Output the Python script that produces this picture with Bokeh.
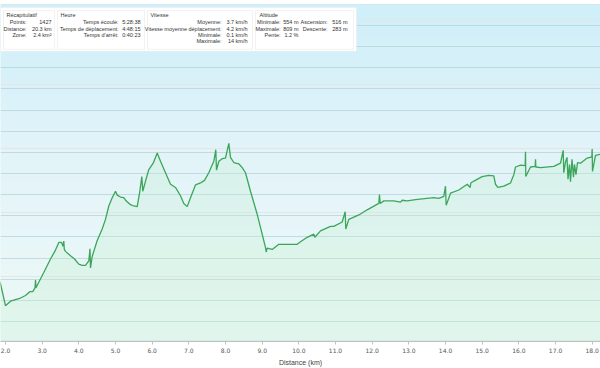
import numpy as np
from bokeh.plotting import figure
from bokeh.models import Range1d, FixedTicker, BoxAnnotation, Label, Grid, NumeralTickFormatter
from bokeh.embed import file_html
from bokeh.resources import INLINE

# ---------------- data ----------------
dist_km = [1.78, 1.864, 2.000, 2.136, 2.409, 2.545, 2.663, 2.744, 2.805, 2.818, 2.832, 2.865,
           3.044, 3.227, 3.363, 3.454, 3.527, 3.568, 3.590, 3.604, 3.636, 3.772, 3.882, 3.999,
           4.092, 4.182, 4.272, 4.304, 4.318, 4.364, 4.501, 4.637, 4.727, 4.817, 4.910, 5.000,
           5.046, 5.136, 5.226, 5.273, 5.409, 5.499, 5.592, 5.663, 5.717, 5.744, 5.818, 5.908,
           6.028, 6.137, 6.227, 6.363, 6.500, 6.636, 6.772, 6.862, 6.955, 7.045, 7.181, 7.318,
           7.427, 7.544, 7.681, 7.735, 7.754, 7.817, 7.909, 7.999, 8.090, 8.136, 8.226, 8.362,
           8.455, 8.545, 8.681, 8.864, 9.000, 9.091, 9.110, 9.137, 9.273, 9.453, 9.955, 10.045,
           10.228, 10.408, 10.435, 10.590, 10.863, 10.953, 11.182, 11.264, 11.280, 11.362, 11.635,
           11.864, 12.180, 12.199, 12.218, 12.317, 12.589, 12.772, 12.818, 12.955, 13.181, 13.680,
           13.817, 13.953, 13.999, 14.018, 14.136, 14.362, 14.591, 14.672, 14.690, 14.771, 14.999,
           15.180, 15.316, 15.363, 15.425, 15.589, 15.772, 15.862, 15.908, 16.045, 16.172, 16.181,
           16.189, 16.317, 16.445, 16.454, 16.463, 16.590, 16.953, 17.135, 17.209, 17.225, 17.272,
           17.313, 17.340, 17.381, 17.408, 17.449, 17.490, 17.517, 17.558, 17.599, 17.681, 17.863,
           17.990, 17.999, 18.008, 18.090, 18.227, 18.300]
elev_m = [602, 588, 554, 561, 566, 570, 576, 576, 582, 594, 582, 586,
          606, 627, 641, 653, 653, 647, 655, 642, 639, 632, 627, 619,
          617, 617, 624, 643, 613, 631, 656, 674, 689, 710, 723, 733,
          727, 724, 723, 719, 712, 710, 709, 733, 756, 733, 749, 767,
          777, 793, 780, 762, 744, 739, 726, 714, 709, 723, 743, 746,
          750, 762, 780, 798, 766, 780, 784, 785, 808, 786, 778, 776,
          770, 762, 733, 697, 666, 645, 638, 644, 642, 650, 650, 654,
          661, 666, 661, 671, 678, 678, 685, 701, 674, 689, 696,
          704, 714, 728, 714, 718, 718, 716, 719, 718, 720, 723,
          722, 725, 741, 711, 730, 735, 744, 739, 746, 749, 756,
          758, 757, 744, 739, 741, 746, 759, 771, 774, 773, 795,
          756, 771, 772, 783, 771, 770, 772, 777, 797, 762, 779,
          786, 752, 775, 748, 783, 755, 775, 759, 778, 777, 785,
          787, 799, 764, 789, 791, 792]

x_ticks = [2, 3, 4, 5, 6, 7, 8, 9, 10, 11, 12, 13, 14, 15, 16, 17, 18]

recap_labels = ["Points:", "Distance:", "Zone:"]
recap_values = ["1427", "20.3 km", "2.4 km²"]
heure_labels = ["Temps écoulé:", "Temps de déplacement:", "Temps d'arrêt:"]
heure_values = ["5:28:38", "4:48:15", "0:40:23"]
vitesse_labels = ["Moyenne:", "Vitesse moyenne déplacement:", "Minimale:", "Maximale:"]
vitesse_values = ["3.7 km/h", "4.2 km/h", "0.1 km/h", "14 km/h"]
alt_labels_a = ["Minimale:", "Maximale:", "Pente:"]
alt_values_a = ["554 m", "809 m", "1.2 %"]
alt_labels_b = ["Ascension:", "Descente:"]
alt_values_b = ["516 m", "283 m"]

# ---------------- layout ----------------
W, H = 600, 368
TOP, BOTTOM = 4, 343
X0, X1 = 1.8636, 18.2263
Y0, Y1 = 498.0, 1025.2

def sx(px):
    return X0 + px * (X1 - X0) / W

def sy(py):
    return Y1 - (py - TOP) * (Y1 - Y0) / (BOTTOM - TOP)

p = figure(width=W, height=H, x_range=Range1d(X0, X1), y_range=Range1d(Y0, Y1),
           output_backend="svg", toolbar_location=None, y_axis_location=None,
           min_border_left=0, min_border_right=0, min_border_top=TOP,
           min_border_bottom=H - BOTTOM)
p.outline_line_color = None
p.border_fill_color = "white"
p.background_fill_color = "#e6f5f6"
p.xgrid.visible = False

# gradient background
n = 200
t = np.linspace(0, 1, n)  # 0 = bottom, 1 = top
stops_t = [0.0, 0.57, 1.0]
stops_c = np.array([[238, 249, 247], [226, 244, 249], [207, 239, 250]], dtype=float)
r = np.interp(t, stops_t, stops_c[:, 0])
g = np.interp(t, stops_t, stops_c[:, 1])
b = np.interp(t, stops_t, stops_c[:, 2])
img = np.empty((n, 1), dtype=np.uint32)
view = img.view(dtype=np.uint8).reshape((n, 1, 4))
view[:, 0, 0] = r.astype(np.uint8)
view[:, 0, 1] = g.astype(np.uint8)
view[:, 0, 2] = b.astype(np.uint8)
view[:, 0, 3] = 255
p.image_rgba(image=[img], x=X0, y=Y0, dw=X1 - X0, dh=Y1 - Y0, level="image")

# horizontal grid
grid_ticks = [562.3 + 33.09 * k for k in range(-1, 15)]
p.add_layout(Grid(dimension=1, ticker=FixedTicker(ticks=grid_ticks),
                  grid_line_color="#b9d3dc", grid_line_width=1, grid_line_alpha=0.8))

# area + line
p.varea(x=dist_km, y1=Y0, y2=elev_m, fill_color="#c4efd2", fill_alpha=0.3)
p.line(dist_km, elev_m, line_color="#3ba65a", line_width=1.3)

# x axis
ax = p.xaxis[0]
ax.ticker = FixedTicker(ticks=x_ticks)
ax.formatter = NumeralTickFormatter(format="0.0")
ax.axis_label = "Distance (km)"
ax.axis_label_text_font = "Liberation Sans"
ax.axis_label_text_font_size = "7px"
ax.axis_label_text_font_style = "normal"
ax.axis_label_text_color = "#444444"
ax.axis_label_standoff = 3
ax.major_label_text_font = "DejaVu Sans"
ax.major_label_text_font_size = "6px"
ax.major_label_text_color = "#555555"
ax.major_label_standoff = 3
ax.major_tick_out = 3
ax.major_tick_in = 0
ax.minor_tick_out = 0
ax.minor_tick_in = 0
ax.axis_line_color = "#b8c4c8"
ax.major_tick_line_color = "#b8c4c8"

# info panel
FONT = "Liberation Sans"
p.add_layout(BoxAnnotation(left=sx(0), right=sx(356), top=sy(7), bottom=sy(51),
                           fill_color="white", fill_alpha=1.0, line_color="#e4e4e4", line_width=1))
for l, r_ in [(3, 54), (57, 144), (147, 252), (255, 353)]:
    p.add_layout(BoxAnnotation(left=sx(l), right=sx(r_), top=sy(10), bottom=sy(49),
                               fill_color="white", fill_alpha=1.0, line_color="#d4d4d4", line_width=1))

def lab(px, py, text, align="left"):
    p.add_layout(Label(x=sx(px), y=sy(py), text=text, text_font=FONT, text_font_size="5.5px",
                       text_color="#333333", text_align=align, text_baseline="middle"))

rows = [22.0, 28.3, 34.5, 40.7]
lab(6, 15, "Récapitulatif")
lab(60, 15, "Heure")
lab(150, 15, "Vitesse")
lab(259, 15, "Altitude")
for i, (a, v) in enumerate(zip(recap_labels, recap_values)):
    lab(26, rows[i], a, "right")
    lab(51, rows[i], v, "right")
for i, (a, v) in enumerate(zip(heure_labels, heure_values)):
    lab(118, rows[i], a, "right")
    lab(140, rows[i], v, "right")
for i, (a, v) in enumerate(zip(vitesse_labels, vitesse_values)):
    lab(221, rows[i], a, "right")
    lab(247, rows[i], v, "right")
for i, (a, v) in enumerate(zip(alt_labels_a, alt_values_a)):
    lab(280, rows[i], a, "right")
    lab(298, rows[i], v, "right")
for i, (a, v) in enumerate(zip(alt_labels_b, alt_values_b)):
    lab(327, rows[i], a, "right")
    lab(347, rows[i], v, "right")

open("out.html", "w").write(file_html(p, INLINE))
